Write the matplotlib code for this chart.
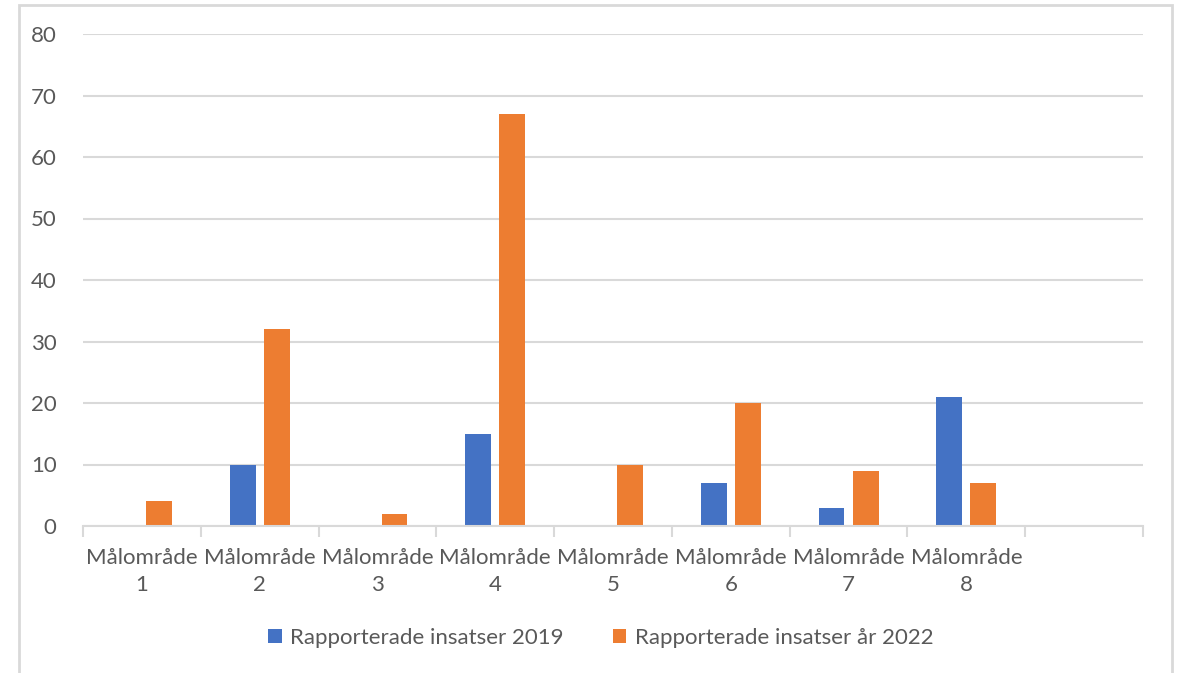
import numpy as np
import matplotlib.pyplot as plt
from matplotlib.patches import Rectangle

categories = ["Målområde\n1", "Målområde\n2", "Målområde\n3", "Målområde\n4",
              "Målområde\n5", "Målområde\n6", "Målområde\n7", "Målområde\n8", ""]
val_2019 = [0, 10, 0, 15, 0, 7, 3, 21, 0]
val_2022 = [4, 32, 2, 67, 10, 20, 9, 7, 0]

plt.rcParams['font.family'] = ['Lato', 'DejaVu Sans']
grey = "#595959"
gridc = "#d9d9d9"

fig = plt.figure(figsize=(11.83, 6.73), dpi=100)
ax = fig.add_axes([83/1183, 1-526/673, 1060/1183, 492/673])

x = np.arange(len(categories))
w = 0.22
off = 0.145
b1 = ax.bar(x - off, val_2019, w, color="#4472C4", label="Rapporterade insatser 2019")
b2 = ax.bar(x + off, val_2022, w, color="#ED7D31", label="Rapporterade insatser år 2022")

ax.set_xlim(-0.5, len(categories) - 0.5)
ax.set_ylim(0, 80)
ax.set_yticks(np.arange(0, 81, 10))
ax.yaxis.grid(True, color=gridc, linewidth=1.5)
ax.set_axisbelow(True)

for s in ["top", "right", "left"]:
    ax.spines[s].set_visible(False)
ax.spines["bottom"].set_color(gridc)
ax.spines["bottom"].set_linewidth(1.5)

ax.set_xticks(x)
ax.set_xticklabels(categories, linespacing=1.45)
ax.set_xticks(np.arange(-0.5, len(categories), 1), minor=True)
ax.tick_params(axis="x", which="major", length=0, pad=16, labelsize=16, labelcolor=grey)
ax.tick_params(axis="x", which="minor", length=8, width=1.5, color=gridc)
ax.tick_params(axis="y", length=0, pad=19, labelsize=16, labelcolor=grey)

fig.legend(handles=[b1, b2], loc="center", bbox_to_anchor=(601/1183, 1-638/673),
           ncol=2, frameon=False, fontsize=16, labelcolor=grey, handlelength=0.6,
           handleheight=0.6, handletextpad=0.4, columnspacing=2.2)

fig.patches.append(Rectangle((19/1183, -0.01), (1172-19)/1183, 1-5/673 + 0.01,
                             transform=fig.transFigure, fill=False,
                             edgecolor=gridc, linewidth=2))

fig.savefig("out.png", dpi=100)
